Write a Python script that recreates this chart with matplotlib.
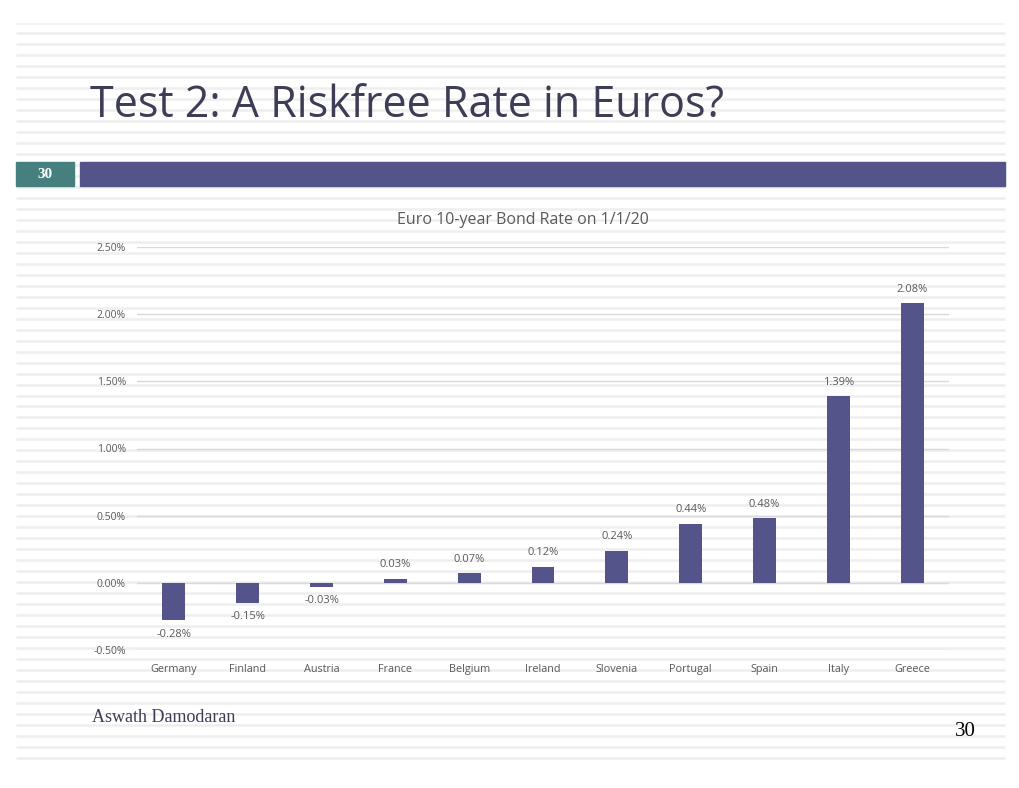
import numpy as np
import matplotlib
matplotlib.use("Agg")
import matplotlib.pyplot as plt

# data
countries = ["Germany", "Finland", "Austria", "France", "Belgium", "Ireland",
             "Slovenia", "Portugal", "Spain", "Italy", "Greece"]
rates = [-0.28, -0.15, -0.03, 0.03, 0.07, 0.12, 0.24, 0.44, 0.48, 1.39, 2.08]
yticks = [-0.5, 0.0, 0.5, 1.0, 1.5, 2.0, 2.5]

W, H = 1020, 788
bar_color = "#54548a"
txt_gray = "#595959"

fig = plt.figure(figsize=(W / 100, H / 100), dpi=100)

# slide background with the light horizontal stripes
bg = fig.add_axes([0, 0, 1, 1], zorder=-1)
bg.set_xlim(0, W)
bg.set_ylim(H, 0)
bg.axis("off")
bg.hlines([24], 16, 1005, color="#f5f5f5", lw=1.5, zorder=1)
for y in np.linspace(33, 758, 67):
    bg.hlines(y, 16, 1005, color="#eeeeee", lw=1.8, zorder=1)

# header band
bg.add_patch(plt.Rectangle((16, 162), 58, 24, color="#45807f", zorder=3))
bg.add_patch(plt.Rectangle((80, 162), 925, 24, color=bar_color, zorder=3))
bg.text(45, 174, "30", color="white", fontsize=11, fontweight="bold",
        family="Liberation Serif", ha="center", va="center", zorder=4)

bg.text(90, 106, "Test 2: A Riskfree Rate in Euros?", fontsize=31,
        family="Open Sans", color="#3d3d55", va="center", ha="left", zorder=4)

bg.text(92, 718, "Aswath Damodaran", fontsize=13, family="Liberation Serif",
        color="#3d3d55", va="center", zorder=4)
bg.text(976, 732, "30", fontsize=15, family="Liberation Serif",
        color="black", va="center", ha="right", zorder=4)

bg.text(523, 220, "Euro 10-year Bond Rate on 1/1/20", fontsize=11.5, color=txt_gray,
        family="Open Sans", ha="center", va="center", zorder=4)

# chart
ax = fig.add_axes([137 / W, (H - 650) / H, 812 / W, 403 / H])
ax.set_facecolor("none")
x = np.arange(len(countries))
ax.bar(x, rates, width=0.31, color=bar_color, zorder=3)
ax.set_xlim(-0.5, len(countries) - 0.5)
ax.set_ylim(yticks[0], yticks[-1])
ax.set_yticks(yticks)
ax.set_yticklabels([f"{v:.2f}%" for v in yticks], fontsize=7.5, color=txt_gray,
                   family="Open Sans")
ax.set_xticks(x)
ax.set_xticklabels(countries, fontsize=7.8, color=txt_gray, family="Open Sans")
ax.tick_params(axis="y", length=0, pad=8)
ax.tick_params(axis="x", length=0, pad=10)
ax.grid(axis="y", color="#d9d9d9", lw=1, zorder=0)
for s in ax.spines.values():
    s.set_visible(False)

for xi, v in zip(x, rates):
    if v >= 0:
        ax.annotate(f"{v:.2f}%", (xi, v), xytext=(0, 6), textcoords="offset points",
                    ha="center", va="bottom", fontsize=8, color=txt_gray, family="Open Sans")
    else:
        ax.annotate(f"{v:.2f}%", (xi, v), xytext=(0, -6), textcoords="offset points",
                    ha="center", va="top", fontsize=8, color=txt_gray, family="Open Sans")

fig.savefig("out.png", dpi=100)
